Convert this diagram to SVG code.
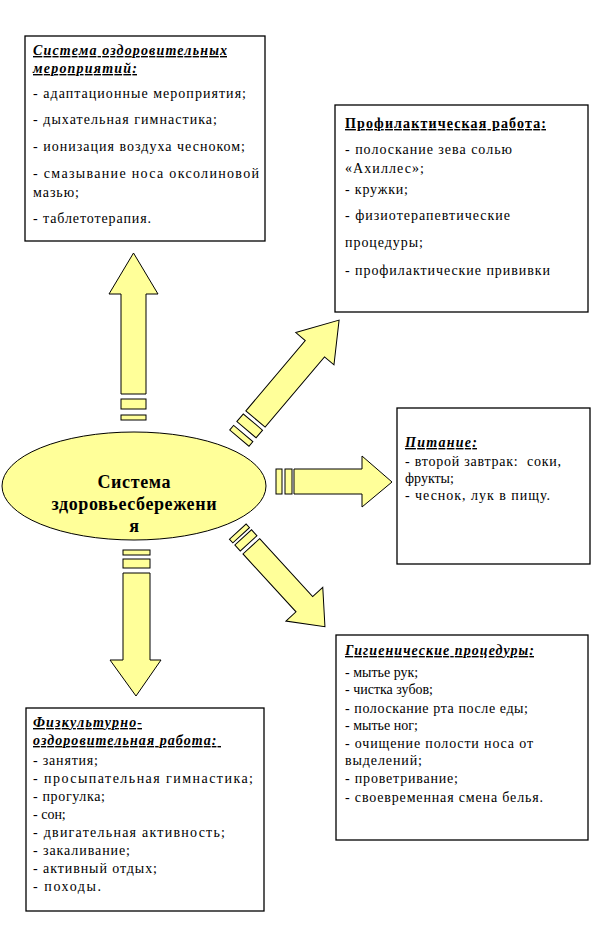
<svg xmlns="http://www.w3.org/2000/svg" width="613" height="937" viewBox="0 0 613 937">
<style>
.box{fill:#fff;stroke:#000;stroke-width:1.3}
text{font-family:'Liberation Serif','DejaVu Serif','Noto Serif',serif;fill:#000;white-space:pre}
.t{font-size:14px}
.h{font-weight:bold;text-decoration:underline}
.hi{font-weight:bold;font-style:italic;text-decoration:underline}
.ar{fill:#FFFF99;stroke:#000;stroke-width:1}
.c{font-size:18px;font-weight:bold;text-anchor:middle}
</style>
<rect width="613" height="937" fill="#fff"/>
<g id="connectors">
  <g id="arrow-up">
    <polygon class="ar" points="121,394 121,294 109,294 133.5,253 158,294 146,294 146,394"/>
    <rect class="ar" x="121" y="399" width="25" height="10"/>
    <rect class="ar" x="121" y="415" width="25" height="5"/>
  </g>
  <g id="arrow-down">
    <rect class="ar" x="123" y="550" width="27" height="5"/>
    <rect class="ar" x="123" y="559" width="27" height="9"/>
    <polygon class="ar" points="123,573 150,573 150,660 161,660 136,696 110,660 123,660"/>
  </g>
  <g id="arrow-east">
    <rect class="ar" x="276" y="469" width="6" height="25"/>
    <rect class="ar" x="285" y="469" width="7" height="25"/>
    <polygon class="ar" points="294,469 362,469 362,456 392,482 362,507 362,494 294,494"/>
  </g>
  <g id="arrow-ne" transform="translate(255.5,419) rotate(-49.8)">
    <polygon class="ar" points="0,-12.6 92,-12.6 92,-25 129.5,0 92,25 92,12.6 0,12.6"/>
    <rect class="ar" x="-14" y="-12.6" width="10" height="25.2"/>
    <rect class="ar" x="-25" y="-12.6" width="6" height="25.2"/>
  </g>
  <g id="arrow-se" transform="translate(251.3,546.3) rotate(47.5)">
    <polygon class="ar" points="0,-11.3 78.5,-11.3 78.5,-25 109,0 78.5,25 78.5,11.3 0,11.3"/>
    <rect class="ar" x="-12" y="-11.3" width="8" height="22.6"/>
    <rect class="ar" x="-20" y="-11.3" width="5" height="22.6"/>
  </g>
</g>
<g id="center">
  <ellipse cx="134" cy="486" rx="132" ry="54" fill="#FFFF99" stroke="#000" stroke-width="1"/>
  <text class="c" x="134" y="488" textLength="73" lengthAdjust="spacing">Система</text>
  <text class="c" x="134" y="510" textLength="165" lengthAdjust="spacing">здоровьесбережени</text>
  <text class="c" x="134" y="532">я</text>
</g>
<g id="box-ozdorov">
  <rect class="box" x="25" y="36" width="240" height="205"/>
  <text class="t hi" x="33" y="55" textLength="194" lengthAdjust="spacing">Система оздоровительных</text>
  <text class="t hi" x="33" y="73" textLength="104" lengthAdjust="spacing">мероприятий:</text>
  <text class="t" x="33" y="98" textLength="213" lengthAdjust="spacing">- адаптационные мероприятия;</text>
  <text class="t" x="33" y="124" textLength="184" lengthAdjust="spacing">- дыхательная гимнастика;</text>
  <text class="t" x="33" y="151" textLength="212" lengthAdjust="spacing">- ионизация воздуха чесноком;</text>
  <text class="t" x="33" y="178" textLength="226" lengthAdjust="spacing">- смазывание носа оксолиновой</text>
  <text class="t" x="33" y="197" textLength="46" lengthAdjust="spacing">мазью;</text>
  <text class="t" x="33" y="223" textLength="118" lengthAdjust="spacing">- таблетотерапия.</text>
</g>
<g id="box-profil">
  <rect class="box" x="335" y="105" width="253" height="207"/>
  <text class="t h" x="345" y="128" textLength="201" lengthAdjust="spacing">Профилактическая работа:</text>
  <text class="t" x="345" y="154" textLength="167" lengthAdjust="spacing">- полоскание зева солью</text>
  <text class="t" x="345" y="173" textLength="79" lengthAdjust="spacing">«Ахиллес»;</text>
  <text class="t" x="345" y="194" textLength="63" lengthAdjust="spacing">- кружки;</text>
  <text class="t" x="345" y="220" textLength="165" lengthAdjust="spacing">- физиотерапевтические</text>
  <text class="t" x="345" y="247" textLength="78" lengthAdjust="spacing">процедуры;</text>
  <text class="t" x="345" y="275" textLength="205" lengthAdjust="spacing">- профилактические прививки</text>
</g>
<g id="box-pitanie">
  <rect class="box" x="397" y="408" width="193" height="156"/>
  <text class="t hi" x="405" y="447" textLength="72" lengthAdjust="spacing">Питание:</text>
  <text class="t" x="405" y="466" textLength="156" lengthAdjust="spacing">- второй завтрак:  соки,</text>
  <text class="t" x="405" y="483">фрукты;</text>
  <text class="t" x="405" y="500" textLength="145" lengthAdjust="spacing">- чеснок, лук в пищу.</text>
</g>
<g id="box-gigiena">
  <rect class="box" x="336" y="635" width="252" height="205"/>
  <text class="t hi" x="345" y="655" textLength="189" lengthAdjust="spacing">Гигиенические процедуры:</text>
  <text class="t" x="345" y="677">- мытье рук;</text>
  <text class="t" x="345" y="694">- чистка зубов;</text>
  <text class="t" x="345" y="713" textLength="183" lengthAdjust="spacing">- полоскание рта после еды;</text>
  <text class="t" x="345" y="730">- мытье ног;</text>
  <text class="t" x="345" y="748" textLength="188" lengthAdjust="spacing">- очищение полости носа от</text>
  <text class="t" x="345" y="765" textLength="77" lengthAdjust="spacing">выделений;</text>
  <text class="t" x="345" y="783" textLength="113" lengthAdjust="spacing">- проветривание;</text>
  <text class="t" x="345" y="802" textLength="198" lengthAdjust="spacing">- своевременная смена белья.</text>
</g>
<g id="box-fizkult">
  <rect class="box" x="26" y="708" width="238" height="203"/>
  <text class="t hi" x="33" y="727" textLength="109" lengthAdjust="spacing">Физкультурно-</text>
  <text class="t hi" x="33" y="745" textLength="188" lengthAdjust="spacing">оздоровительная работа: </text>
  <text class="t" x="33" y="765" textLength="65" lengthAdjust="spacing">- занятия;</text>
  <text class="t" x="33" y="783" textLength="220" lengthAdjust="spacing">- просыпательная гимнастика;</text>
  <text class="t" x="33" y="801" textLength="72" lengthAdjust="spacing">- прогулка;</text>
  <text class="t" x="33" y="819">- сон;</text>
  <text class="t" x="33" y="837" textLength="192" lengthAdjust="spacing">- двигательная активность;</text>
  <text class="t" x="33" y="855" textLength="97" lengthAdjust="spacing">- закаливание;</text>
  <text class="t" x="33" y="873" textLength="124" lengthAdjust="spacing">- активный отдых;</text>
  <text class="t" x="33" y="891" textLength="68" lengthAdjust="spacing">- походы.</text>
</g>
</svg>
